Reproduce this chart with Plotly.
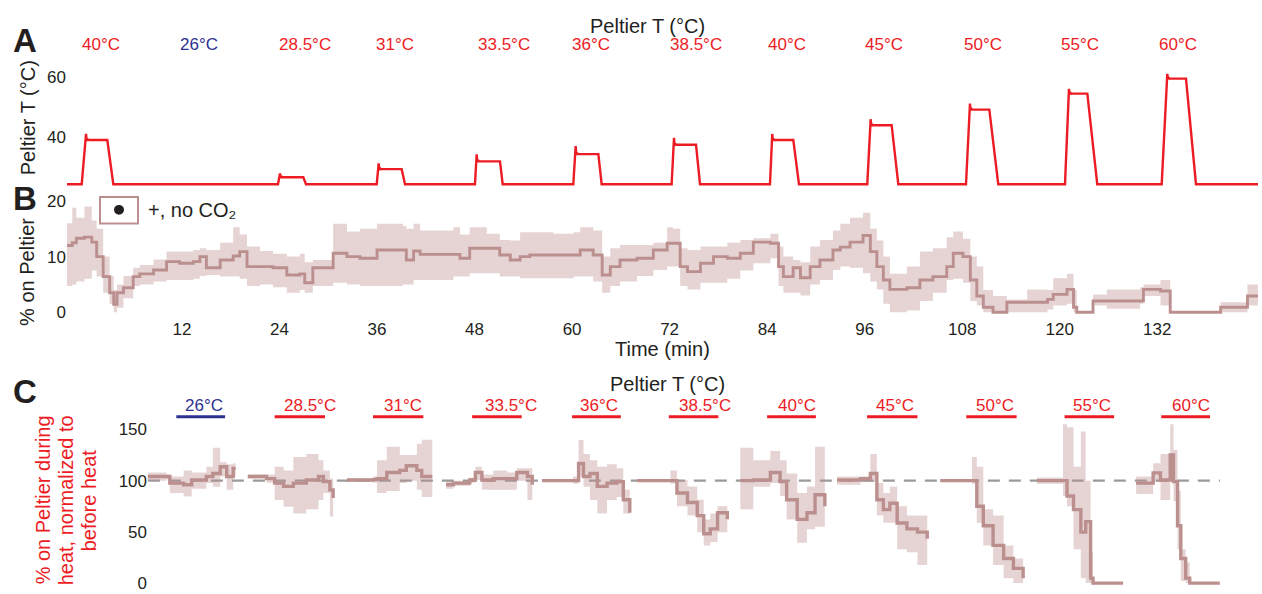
import plotly.graph_objects as go

# ---------------- Panel A: Peltier temperature ----------------
A_LABELS = ["40°C", "26°C", "28.5°C", "31°C", "33.5°C", "36°C", "38.5°C",
            "40°C", "45°C", "50°C", "55°C", "60°C"]
A_LABEL_T = [2.0, 14.1, 27.1, 38.2, 51.6, 62.3, 75.3, 86.4, 98.4, 110.5, 122.5, 134.5]
CONTROL_LABEL = "26°C"

PULSE_RISE = [-0.34, 23.81, 35.96, 48.05, 60.15, 72.25, 84.35, 96.32, 108.47, 120.65, 132.55]
PULSE_PEAK_T = [0.19, 24.06, 36.2, 48.26, 60.44, 72.54, 84.63, 96.74, 108.96, 121.14, 133.24]
PULSE_PLATEAU_END = [2.81, 26.93, 39.03, 51.13, 63.23, 75.25, 87.22, 99.32, 111.34, 123.4, 135.54]
PULSE_FALL_END = [3.55, 27.26, 39.44, 51.46, 63.64, 75.74, 87.92, 100.14, 112.44, 124.62, 136.77]
PULSE_PEAK = [41.0, 27.9, 31.2, 34.2, 37.0, 39.7, 41.0, 45.9, 51.1, 56.0, 61.0]
PULSE_PLATEAU = [39.0, 26.6, 29.3, 31.9, 34.3, 37.4, 39.0, 43.9, 49.1, 54.4, 59.4]
BASELINE_T = 24.3
TRACE_START, TRACE_END = -2.15, 144.4

# ---------------- Panel B: % on Peltier ----------------
B_T = [-2.15, -1.5, -1.0, 0.0, 0.9, 1.5, 2.3, 3.1, 3.6, 4.0,
       4.8, 6.0, 6.8, 8.5, 10.1, 11.7, 13.4, 14.2, 15.0, 16.7,
       18.3, 19.1, 20.0, 21.6, 23.2, 24.9, 26.5, 27.1, 28.1, 30.2,
       30.6, 32.3, 33.9, 36.0, 39.2, 39.6, 40.5, 41.3, 45.4, 46.2,
       47.4, 49.5, 51.1, 52.4, 53.6, 54.8, 57.7, 60.2, 61.0, 62.6,
       63.7, 64.7, 65.9, 68.0, 70.0, 71.7, 72.4, 73.3, 74.2, 75.8,
       77.4, 79.1, 80.7, 82.3, 84.4, 85.4, 86.0, 87.2, 88.1, 89.3,
       90.5, 92.1, 93.0, 94.2, 95.8, 96.7, 97.5, 98.3, 99.1, 101.2,
       102.8, 104.4, 106.1, 106.9, 108.1, 109.0, 109.8, 110.6, 111.8, 113.5,
       116.0, 118.5, 119.2, 120.9, 121.7, 122.1, 124.1, 125.8, 129.9, 130.3,
       132.4, 133.6, 139.8, 143.1, 144.4]
B_MEAN = [12.0, 12.5, 13.3, 13.5, 12.6, 10.0, 6.4, 3.5, 1.4, 3.5,
          4.4, 6.4, 6.9, 7.6, 9.1, 8.8, 9.1, 10.0, 8.0, 9.4,
          10.1, 10.9, 8.2, 8.2, 8.0, 6.7, 6.9, 5.3, 8.0, 8.0,
          10.6, 10.0, 9.7, 11.2, 11.2, 9.4, 11.0, 10.4, 10.4, 9.7,
          11.5, 11.5, 10.3, 9.4, 10.0, 10.3, 10.3, 10.3, 11.2, 10.3,
          6.7, 8.2, 9.4, 9.7, 11.2, 12.4, 12.4, 8.2, 7.3, 8.8,
          10.0, 9.7, 10.6, 12.6, 12.4, 8.2, 6.4, 8.0, 6.2, 8.2,
          9.4, 11.2, 11.7, 12.6, 13.8, 10.9, 8.2, 5.8, 4.1, 4.4,
          5.8, 6.4, 8.2, 10.6, 10.0, 5.8, 2.9, 0.9, 0.0, 1.8,
          1.8, 2.3, 3.2, 4.1, 0.9, 0.0, 2.0, 2.0, 2.0, 4.1,
          3.8, 0.0, 0.9, 2.9, 2.9]
B_UPPER = [16.0, 18.8, 17.0, 19.0, 16.5, 15.0, 10.0, 6.5, 4.0, 5.0,
           6.5, 8.0, 8.5, 9.5, 10.9, 10.9, 11.2, 11.5, 11.2, 12.5,
           15.3, 14.0, 11.8, 11.0, 10.5, 10.0, 10.5, 9.0, 9.4, 9.4,
           15.9, 14.5, 15.0, 15.9, 15.5, 15.0, 15.9, 14.7, 15.3, 14.0,
           15.3, 14.1, 13.0, 12.9, 14.4, 14.4, 14.1, 14.4, 15.3, 14.7,
           10.0, 11.5, 12.1, 12.1, 12.5, 15.3, 15.0, 11.5, 11.2, 11.8,
           11.8, 12.5, 13.0, 13.3, 14.1, 11.8, 10.0, 9.4, 9.0, 11.8,
           13.0, 14.7, 15.9, 17.0, 17.9, 15.0, 12.9, 10.0, 6.9, 8.2,
           10.9, 11.5, 13.5, 14.5, 13.2, 10.0, 8.2, 4.0, 2.9, 2.3,
           4.1, 4.0, 6.1, 6.9, 4.0, 0.0, 3.2, 4.1, 4.5, 5.0,
           5.8, 0.0, 1.8, 5.0, 5.0]
B_LOWER = [4.7, 5.0, 5.5, 6.0, 7.5, 6.4, 3.5, 1.5, 0.0, 0.8,
           2.5, 4.7, 5.0, 5.5, 5.8, 5.8, 6.0, 6.5, 6.7, 6.4,
           6.4, 6.0, 4.7, 5.0, 4.5, 3.5, 4.0, 3.5, 4.7, 4.7,
           5.3, 5.0, 4.7, 4.7, 5.0, 5.0, 5.8, 5.8, 6.4, 6.4,
           7.0, 7.0, 6.4, 6.4, 6.1, 6.1, 6.1, 6.4, 6.4, 5.5,
           3.5, 4.7, 5.5, 6.5, 7.6, 8.2, 8.2, 4.7, 4.1, 5.3,
           5.3, 6.0, 7.5, 8.8, 9.7, 4.7, 3.5, 3.5, 3.0, 5.0,
           5.8, 7.6, 8.2, 8.0, 7.0, 5.5, 4.1, 1.5, 0.0, 0.3,
           2.0, 3.5, 5.8, 6.0, 5.3, 2.0, 1.2, 0.0, 0.0, 0.0,
           0.0, 0.5, 1.2, 1.5, 0.0, 0.0, 1.2, 0.6, 1.5, 2.9,
           1.2, 0.0, 0.0, 1.2, 1.2]
B_TICKS = [12, 24, 36, 48, 60, 72, 84, 96, 108, 120, 132]
LEGEND_TEXT = "+, no CO₂"

# ---------------- Panel C: normalized % on Peltier ----------------
C_LABELS = ["26°C", "28.5°C", "31°C", "33.5°C", "36°C", "38.5°C",
            "40°C", "45°C", "50°C", "55°C", "60°C"]
C_LABEL_T = [14.7, 27.75, 39.2, 52.5, 63.3, 76.4, 87.7, 99.7, 112.0, 124.0, 136.2]
C_BAR_START = [11.3, 23.4, 35.5, 47.7, 60.0, 71.9, 84.0, 96.3, 108.5, 120.6, 132.5]
C_BAR_END = [17.3, 29.6, 41.7, 53.8, 66.0, 78.0, 90.0, 102.5, 114.7, 126.7, 138.5]
NORM_LEVEL = 100

C_T = [
    [7.8, 10.1, 10.5, 12.2, 13.2, 15.0, 15.8, 16.7, 17.5, 18.3, 18.6],
    [20.1, 22.4, 23.4, 24.5, 25.7, 27.3, 28.8, 29.4, 30.2, 30.6],
    [32.3, 35.5, 36.0, 37.2, 38.8, 39.6, 40.9, 41.5, 42.8],
    [44.5, 45.4, 47.4, 48.1, 48.9, 50.3, 52.0, 53.2, 54.5, 55.1],
    [56.3, 60.1, 60.8, 61.4, 62.2, 63.1, 64.3, 65.5, 66.3, 67.1],
    [68.0, 72.1, 72.9, 74.2, 75.4, 76.2, 77.0, 77.9, 79.1],
    [80.7, 82.3, 84.4, 85.6, 86.4, 87.7, 88.9, 89.9, 91.1],
    [92.6, 95.5, 96.7, 97.5, 98.3, 99.1, 100.0, 101.2, 102.5, 103.7],
    [105.3, 109.2, 109.8, 110.6, 111.8, 113.1, 114.3, 115.5],
    [117.2, 120.4, 120.9, 121.7, 122.6, 123.2, 123.8, 124.1, 127.8],
    [129.4, 130.8, 131.5, 132.4, 133.6, 134.0, 134.5, 134.9, 135.5, 136.0, 139.7],
]
C_MEAN = [
    [104, 104, 97.6, 96, 100.6, 104, 107, 113.6, 104, 112, 112],
    [104, 102, 97.6, 94.4, 97.6, 100.6, 104, 99, 91, 83],
    [100.6, 101, 102, 108, 110, 114.6, 110, 104, 104],
    [96, 97.6, 100.6, 108, 100.6, 102, 102, 108, 104, 96],
    [100, 100, 116.7, 104, 107, 94.4, 97.6, 99, 81.3, 68.6],
    [100, 100, 88, 78.7, 65.9, 48.2, 52.9, 68.6, 62.2],
    [100, 100.6, 108, 99, 81.3, 62.2, 68.6, 86.2, 75],
    [100.6, 102, 107, 81.3, 71.7, 78, 58.6, 52.9, 49.7, 43.3],
    [100, 100, 75, 56, 36.8, 24, 14.4, 4.8],
    [100, 100, 85, 71.7, 49.7, 60, 4.8, 0, 0],
    [97.6, 97.6, 107.6, 100.6, 125, 99, 56, 24, 4.8, 0, 0],
]
C_UPPER = [
    [108, 106, 104, 110, 108, 113.6, 132, 118, 116, 117, 117],
    [106, 106, 113.6, 110, 123, 126, 120, 110, 102, 90],
    [102, 104, 120, 133, 125, 125, 136, 140, 140],
    [100, 100, 103, 113.6, 106, 110, 108, 112, 112, 100],
    [101, 104, 139.7, 126, 120, 113.6, 116, 112, 91, 78],
    [101, 110, 100.6, 94.4, 81.3, 62, 68, 75, 75],
    [132, 120, 129, 120, 107, 88, 94.4, 133, 90],
    [104, 104, 126, 97.6, 88, 94.4, 75, 65.9, 65.9, 65.9],
    [101, 123, 113.6, 72, 65.9, 36.8, 24, 20.8],
    [103, 155, 152, 113.6, 148, 100, 30, 0, 0],
    [104, 104, 117, 126, 155, 130, 90, 33, 20, 0, 0],
]
C_LOWER = [
    [100, 101, 88, 84.6, 92, 97.6, 94, 104, 91, 104, 104],
    [102, 98, 81, 74.5, 68, 72, 81, 88, 65, 65],
    [99, 98, 88, 90, 97.6, 100, 91, 84, 84],
    [92, 95, 98, 100.6, 91, 91, 91, 100, 81, 91],
    [99, 97, 104, 94, 81, 68, 81, 84, 68, 52.6],
    [99, 97, 75, 65.9, 49.7, 36.7, 40, 49.7, 49.7],
    [72, 94, 97.6, 85, 62, 39.4, 52.6, 55, 65],
    [96, 99, 99, 65.9, 59, 59, 33, 30, 17.6, 24],
    [99, 97, 59, 36.8, 17.6, 4.8, 0, 0],
    [97, 85, 75, 33, 4.8, 0, 0, 0, 0],
    [87, 87, 99, 81, 100.6, 80, 33, 2, 0, 0, 0],
]

# ---------------- styles ----------------
W, H = 1262, 594
FONT = "Arial, 'Liberation Sans', Helvetica, sans-serif"
BLACK = "#231F20"
RED = "#ED1C24"
NAVY = "#2E3192"
MEAN_COL = "#BC8F8F"
BAND_COL = "rgba(188,143,143,0.38)"
GRAY = "#9A9A9A"


def px_x(p):
    return p / W


def px_y(p):
    return 1 - p / H


XDOM = [px_x(67), px_x(1258)]
XR = [TRACE_START, TRACE_END]

fig = go.Figure()

# ---- Panel A trace built from the pulse table ----
a_t = [TRACE_START]
a_v = [BASELINE_T]
for r, pk_t, pe, fe, pk, pl in zip(PULSE_RISE, PULSE_PEAK_T, PULSE_PLATEAU_END,
                                   PULSE_FALL_END, PULSE_PEAK, PULSE_PLATEAU):
    a_t += [r, pk_t, pk_t + 0.08, pk_t + 0.16, pk_t + 0.25, pe, fe]
    a_v += [BASELINE_T, pk, pl - 0.3, pl + 0.4, pl, pl, BASELINE_T]
a_t.append(TRACE_END)
a_v.append(BASELINE_T)
fig.add_trace(go.Scatter(x=a_t, y=a_v, mode="lines", xaxis="x", yaxis="y",
                         line=dict(color=RED, width=2.4), hoverinfo="skip"))

# ---- Panel B ----
fig.add_trace(go.Scatter(x=B_T, y=B_LOWER, mode="lines", xaxis="x2", yaxis="y2",
                         line=dict(width=0, shape="hv"), hoverinfo="skip"))
fig.add_trace(go.Scatter(x=B_T, y=B_UPPER, mode="lines", xaxis="x2", yaxis="y2",
                         line=dict(width=0, shape="hv"), fill="tonexty",
                         fillcolor=BAND_COL, hoverinfo="skip"))
fig.add_trace(go.Scatter(x=B_T, y=B_MEAN, mode="lines", xaxis="x2", yaxis="y2",
                         line=dict(color=MEAN_COL, width=2.9, shape="hv"),
                         hoverinfo="skip"))

# ---- Panel C ----
fig.add_trace(go.Scatter(x=[C_T[0][0], C_T[-1][-1]], y=[NORM_LEVEL, NORM_LEVEL],
                         mode="lines", xaxis="x3", yaxis="y3",
                         line=dict(color=GRAY, width=2.2, dash="12px,9px"),
                         hoverinfo="skip"))
for t, m, u, lo in zip(C_T, C_MEAN, C_UPPER, C_LOWER):
    fig.add_trace(go.Scatter(x=t, y=lo, mode="lines", xaxis="x3", yaxis="y3",
                             line=dict(width=0, shape="hv"), hoverinfo="skip"))
    fig.add_trace(go.Scatter(x=t, y=u, mode="lines", xaxis="x3", yaxis="y3",
                             line=dict(width=0, shape="hv"), fill="tonexty",
                             fillcolor=BAND_COL, hoverinfo="skip"))
    fig.add_trace(go.Scatter(x=t, y=m, mode="lines", xaxis="x3", yaxis="y3",
                             line=dict(color=MEAN_COL, width=3.4, shape="hv"),
                             hoverinfo="skip"))

ann = []
shapes = []


def text(x, y, s, size, color=BLACK, xref="paper", angle=0, xanchor="center"):
    ann.append(dict(x=x, y=y, xref=xref, yref="paper", text=s, showarrow=False,
                    font=dict(family=FONT, size=size, color=color),
                    xanchor=xanchor, yanchor="middle", textangle=angle))


# panel letters
text(px_x(25), px_y(37), "<b>A</b>", 33)
text(px_x(25), px_y(198), "<b>B</b>", 33)
text(px_x(25), px_y(393), "<b>C</b>", 33)

# Panel A texts
text(px_x(648), px_y(22), "Peltier T (°C)", 20)
for s, t in zip(A_LABELS, A_LABEL_T):
    text(t, px_y(41), s, 17, NAVY if s == CONTROL_LABEL else RED, xref="x")
text(px_x(28), px_y(116), "Peltier T (°C)", 20, angle=-90)

# Panel B texts + legend
text(px_x(27), px_y(272), "% on Peltier", 20, angle=-90)
text(px_x(662), px_y(350), "Time (min)", 20)
shapes.append(dict(type="rect", xref="paper", yref="paper",
                   x0=px_x(100), x1=px_x(138), y0=px_y(223), y1=px_y(196),
                   line=dict(color=MEAN_COL, width=2), fillcolor="white"))
shapes.append(dict(type="circle", xref="paper", yref="paper",
                   x0=px_x(114), x1=px_x(124), y0=px_y(214), y1=px_y(204),
                   line=dict(color=BLACK, width=0), fillcolor=BLACK))
text(px_x(146), px_y(209), LEGEND_TEXT, 20, xanchor="left")

# Panel C texts
text(px_x(667), px_y(386), "Peltier T (°C)", 20)
for s, t, b0, b1 in zip(C_LABELS, C_LABEL_T, C_BAR_START, C_BAR_END):
    col = NAVY if s == CONTROL_LABEL else RED
    text(t, px_y(408), s, 17, col, xref="x3")
    shapes.append(dict(type="line", xref="x3", yref="paper", x0=b0, x1=b1,
                       y0=px_y(419), y1=px_y(419), line=dict(color=col, width=3)))
for xp, s in zip([43, 66, 89], ["% on Peltier during", "heat, normalized to", "before heat"]):
    text(px_x(xp), px_y(504), s, 20, RED, angle=-90)

axis_common = dict(showgrid=False, zeroline=False, showline=False, ticks="",
                   tickfont=dict(family=FONT, size=17, color=BLACK))

fig.update_layout(
    width=W, height=H, autosize=False, margin=dict(l=0, r=0, t=0, b=0),
    paper_bgcolor="white", plot_bgcolor="white", showlegend=False,
    font=dict(family=FONT, color=BLACK),
    xaxis=dict(domain=XDOM, range=XR, anchor="y", showticklabels=False, **axis_common),
    yaxis=dict(domain=[px_y(190), px_y(62)], range=[22, 63.9], anchor="x",
               tickvals=[40, 60], **axis_common),
    xaxis2=dict(domain=XDOM, range=XR, anchor="y2", tickvals=B_TICKS, **axis_common),
    yaxis2=dict(domain=[px_y(318), px_y(195)], range=[-0.9, 20.9], anchor="x2",
                tickvals=[0, 10, 20], **axis_common),
    xaxis3=dict(domain=XDOM, range=XR, anchor="y3", showticklabels=False, **axis_common),
    yaxis3=dict(domain=[px_y(592), px_y(425)], range=[-3.85, 156.7], anchor="free",
                position=px_x(147), tickvals=[0, 50, 100, 150], **axis_common),
    annotations=ann, shapes=shapes,
)

fig.write_html(
    "out.html",
    config={"displayModeBar": False, "responsive": False},
    post_script="document.body.style.margin='0px';document.body.style.overflow='hidden';",
)
